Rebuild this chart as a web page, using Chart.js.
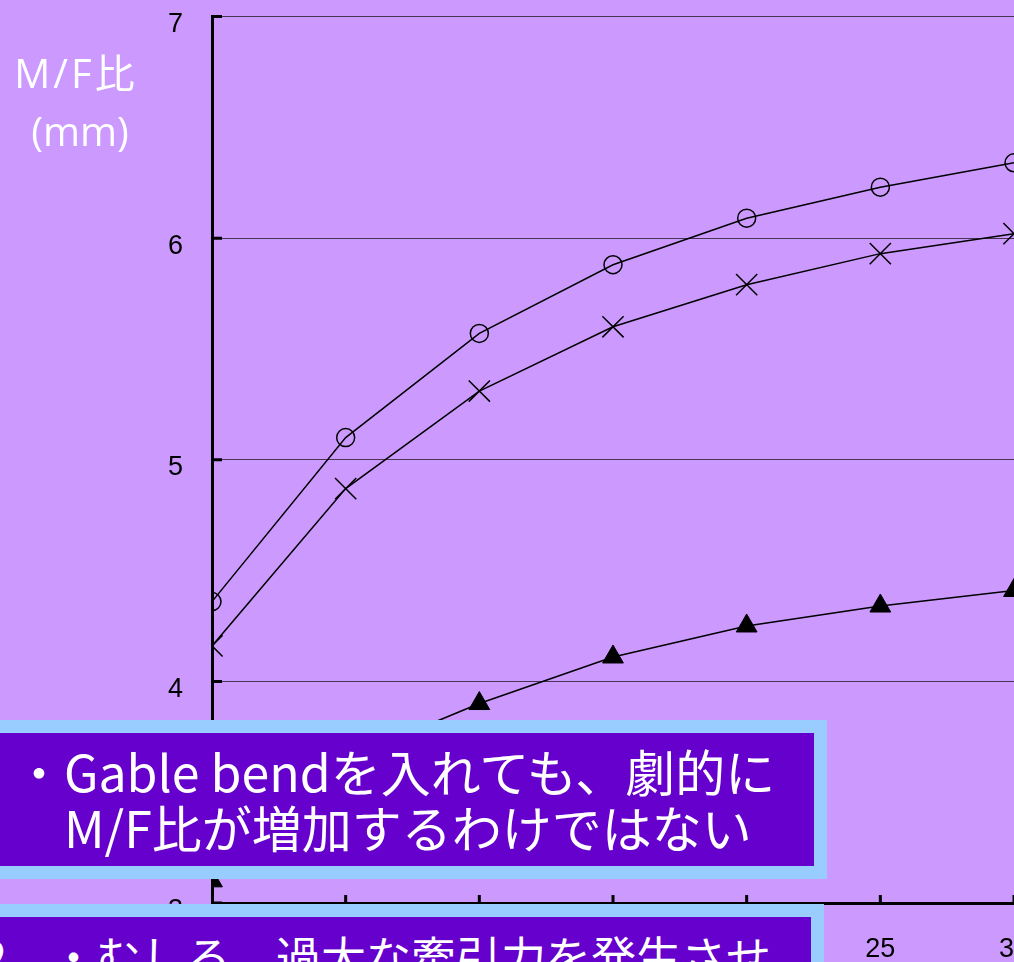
<!DOCTYPE html>
<html lang="ja">
<head>
  <meta charset="UTF-8">
  <title>M/F比</title>
  <script src="https://cdn.jsdelivr.net/npm/chart.js"></script>
  <style>
    html, body { margin: 0; padding: 0; width: 1014px; height: 962px; overflow: hidden; background: #CC99FF; }
    #wrap { position: absolute; left: 0; top: 0; width: 1100px; height: 962px; }
    .ytitle { position: absolute; left: 0; top: 44px; width: 160px; text-align: center; color: #fff;
      font-family: "Open Sans", "Noto Sans CJK JP", sans-serif; font-size: 40px; line-height: 58px; }
    .ytitle .l1 { letter-spacing: 3px; margin-left: -8px; }
    .note { position: absolute; box-sizing: border-box; background: #6600CC; border: 13px solid #99CCFF;
      color: #fff; font-family: "Noto Sans CJK JP", sans-serif; white-space: nowrap; }
    #note1 { left: -40px; top: 720px; width: 867px; height: 159px; padding: 9px 0 0 91px;
      font-size: 50px; line-height: 56px; }
    #note1 .bullet { margin-left: -50px; }
    #note2 { left: -40px; top: 904px; width: 864px; height: 120px; padding: 11px 0 0 9px;
      font-size: 45px; line-height: 56px; }
    #note2 .num { margin-right: 44px; }
  </style>
</head>
<body>
  <div id="wrap"><canvas id="mfChart" width="1100" height="962"></canvas></div>
  <div class="ytitle"><span class="l1">M/F比</span><br>(mm)</div>
  <div class="note" id="note1"><span class="bullet">・</span>Gable bendを入れても、劇的に<br>M/F比が増加するわけではない</div>
  <div class="note" id="note2"><span class="num">2</span>・むしろ、過大な牽引力を発生させ</div>

  <script>
    // x positions and the three measured curves
    const xValues = [0, 5, 10, 15, 20, 25, 30];
    const circleSeries = [4.36, 5.10, 5.57, 5.88, 6.09, 6.23, 6.34];
    const crossSeries = [4.16, 4.87, 5.31, 5.60, 5.79, 5.93, 6.02];
    const triangleSeries = [3.10, 3.65, 3.90, 4.11, 4.25, 4.34, 4.41];

    const xTicks = [0, 5, 10, 15, 20, 25, 30];
    const yTicks = [3, 4, 5, 6, 7];

    const toPoints = ys => xValues.map((x, i) => ({ x: x, y: ys[i] }));

    // short tick marks drawn inward from both axes
    const innerTicks = {
      id: 'innerTicks',
      afterDraw(chart) {
        const { ctx, chartArea, scales } = chart;
        ctx.save();
        ctx.strokeStyle = '#000';
        ctx.lineWidth = 3;
        ctx.beginPath();
        yTicks.forEach(v => {
          const y = scales.y.getPixelForValue(v);
          ctx.moveTo(chartArea.left, y);
          ctx.lineTo(chartArea.left + 10, y);
        });
        xTicks.slice(1).forEach(v => {
          const x = scales.x.getPixelForValue(v);
          ctx.moveTo(x, chartArea.bottom);
          ctx.lineTo(x, chartArea.bottom - 8);
        });
        ctx.stroke();
        ctx.restore();
      }
    };

    const tickFont = { family: "'Liberation Sans', Arial, sans-serif", size: 27 };

    new Chart(document.getElementById('mfChart'), {
      type: 'scatter',
      data: {
        datasets: [
          {
            label: '○',
            data: toPoints(circleSeries),
            showLine: true,
            borderColor: '#000',
            borderWidth: 1.5,
            pointStyle: 'circle',
            pointRadius: 9,
            pointBorderWidth: 1.5,
            pointBackgroundColor: 'rgba(0,0,0,0)',
            pointBorderColor: '#000'
          },
          {
            label: '×',
            data: toPoints(crossSeries),
            showLine: true,
            borderColor: '#000',
            borderWidth: 1.5,
            pointStyle: 'crossRot',
            pointRadius: 15,
            pointBorderWidth: 1.5,
            pointBorderColor: '#000'
          },
          {
            label: '▲',
            data: toPoints(triangleSeries),
            showLine: true,
            borderColor: '#000',
            borderWidth: 1.5,
            pointStyle: 'triangle',
            pointRadius: 12,
            pointBorderWidth: 1,
            pointBackgroundColor: '#000',
            pointBorderColor: '#000'
          }
        ]
      },
      options: {
        responsive: false,
        animation: false,
        layout: { padding: { top: 14, right: 86, left: 0, bottom: 0 } },
        plugins: { legend: { display: false }, tooltip: { enabled: false } },
        scales: {
          x: {
            type: 'linear',
            min: 0,
            max: 30,
            afterBuildTicks: scale => { scale.ticks = xTicks.map(v => ({ value: v })); },
            afterFit: scale => { scale.height = 59; scale.paddingLeft = 0; scale.paddingRight = 0; },
            grid: { display: false, drawTicks: false },
            border: { display: true, color: '#000', width: 3 },
            ticks: { color: '#000', font: tickFont, padding: 30, maxRotation: 0 }
          },
          y: {
            min: 3,
            max: 7,
            afterBuildTicks: scale => { scale.ticks = yTicks.map(v => ({ value: v })); },
            afterFit: scale => { scale.width = 212; scale.paddingTop = 0; scale.paddingBottom = 0; },
            grid: { color: 'rgba(0,0,0,0.65)', lineWidth: 1, drawTicks: false },
            border: { display: true, color: '#000', width: 3 },
            ticks: { color: '#000', font: tickFont, padding: 29, labelOffset: 8 }
          }
        }
      },
      plugins: [innerTicks]
    });
  </script>
</body>
</html>
